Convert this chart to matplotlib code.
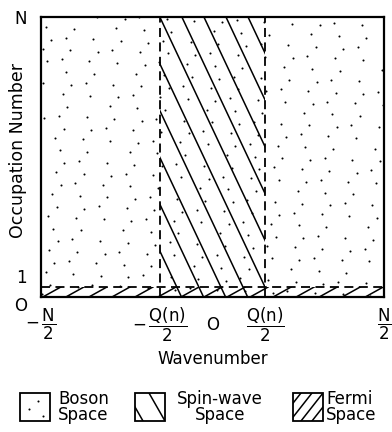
import numpy as np
import matplotlib
matplotlib.use('Agg')
import matplotlib.pyplot as plt
from matplotlib.patches import Rectangle

# ---- data (schematic units) ----
N_top = 28.0          # occupation number "N" (display height)
one_level = 1.0       # occupation number "1"
half_N = 14.0         # N/2 on wavenumber axis
half_Q = 4.3          # Q(n)/2 on wavenumber axis
x_ticks = [-half_N, -half_Q, 0.0, half_Q, half_N]
x_ticklabels = [r'$-\,\dfrac{\mathrm{N}}{2}$', r'$-\,\dfrac{\mathrm{Q(n)}}{2}$', 'O',
                r'$\dfrac{\mathrm{Q(n)}}{2}$', r'$\dfrac{\mathrm{N}}{2}$']
y_ticks = [0.0, one_level, N_top]
y_ticklabels = ['O', '1', 'N']
legend_labels = ['Boson\nSpace', 'Spin-wave\nSpace', 'Fermi\nSpace']

plt.rcParams['font.family'] = ['DejaVu Sans']
plt.rcParams['mathtext.fontset'] = 'dejavusans'

W, H = 392, 432
fig = plt.figure(figsize=(W / 100, H / 100), dpi=100)
ax = fig.add_axes([41 / W, 1 - 297 / H, 343 / W, 280 / H])
ax.set_xlim(-half_N, half_N)
ax.set_ylim(0, N_top)

# Boson-space stipple texture (deterministic low-discrepancy placement)
n_dots = 330
g = 1.32471795724
k = np.arange(1, n_dots + 1)
u = (0.5 + k / g) % 1.0
v = (0.5 + k / g ** 2) % 1.0
ax.scatter(-half_N + u * 2 * half_N, v * N_top, s=2.2, color='black', lw=0, zorder=2)

# Spin-wave space: steep "\" hatch between -Q/2 and Q/2
sw_rect = Rectangle((-half_Q, 0), 2 * half_Q, N_top, fill=False, linewidth=0)
ax.add_patch(sw_rect)
slope_sw = 2.6
spacing_sw = 1.8
for i in range(-7, 6):
    x0 = -half_Q + i * spacing_sw
    ln, = ax.plot([x0, x0 + N_top / slope_sw], [N_top, 0], color='black', lw=1.1)
    ln.set_clip_path(sw_rect)

# Fermi space: "/" hatch in bottom strip
fe_rect = Rectangle((-half_N, 0), 2 * half_N, one_level, fill=False, linewidth=0)
ax.add_patch(fe_rect)
spacing_fe = 1.88
dx_fe = 1.47
for i in range(-1, 17):
    xb = -half_N + 0.15 + i * spacing_fe
    ln, = ax.plot([xb, xb + dx_fe], [0, one_level], color='black', lw=1.1)
    ln.set_clip_path(fe_rect)

# dashed boundaries
for xq in (-half_Q, half_Q):
    ax.plot([xq, xq], [0, N_top], color='black', lw=1.3, dashes=(5, 3))
ax.plot([-half_N, half_N], [one_level, one_level], color='black', lw=1.3, dashes=(5, 3))

for s in ax.spines.values():
    s.set_linewidth(1.6)

ax.set_xticks(x_ticks)
ax.set_xticklabels(x_ticklabels, fontsize=12)
ax.tick_params(axis='x', length=0, pad=20)
for lab in ax.get_xticklabels():
    lab.set_verticalalignment('center')
ax.set_yticks(y_ticks)
ax.set_yticklabels(y_ticklabels, fontsize=12)
ax.tick_params(axis='y', length=0, pad=10)
ylabs = ax.get_yticklabels()
ylabs[0].set_verticalalignment('top')
ylabs[1].set_verticalalignment('bottom')

ax.set_xlabel('Wavenumber', fontsize=12)
ax.xaxis.set_label_coords(0.5, -(359 - 297) / 280)
ax.xaxis.label.set_verticalalignment('center')
ax.set_ylabel('Occupation Number', fontsize=12.5)
ax.yaxis.set_label_coords(-(41 - 18) / 343, (297 - 151) / 280)
ax.yaxis.label.set_verticalalignment('center')

# ---- legend drawn in its own axes (pixel coordinates) ----
lax = fig.add_axes([0, 0, 1, 1], zorder=-1)
lax.set_xlim(0, W)
lax.set_ylim(H, 0)
lax.axis('off')
box_x = [20, 135, 293]
box_w, box_top, box_h = 30, 393, 28
text_x = [58, 220, 326]
text_ha = ['left', 'center', 'left']
for i, (bx, tx, ha, lab) in enumerate(zip(box_x, text_x, text_ha, legend_labels)):
    rect = Rectangle((bx, box_top), box_w, box_h, fill=False, edgecolor='black', lw=1.3)
    lax.add_patch(rect)
    if i == 0:
        lax.scatter([bx + 18, bx + 9, bx + 23], [box_top + 8, box_top + 16, box_top + 23],
                    s=2.2, color='black', lw=0)
    elif i == 1:
        for off in (-8, 14):
            ln, = lax.plot([bx + off, bx + off + 16], [box_top, box_top + box_h],
                           color='black', lw=1.1)
            ln.set_clip_path(rect)
    else:
        for off in (-14, -3, 8, 19):
            ln, = lax.plot([bx + off, bx + off + 22], [box_top + box_h, box_top],
                           color='black', lw=1.1)
            ln.set_clip_path(rect)
    lax.text(tx, box_top + box_h / 2, lab, ha=ha, va='center', fontsize=12,
             linespacing=0.85, multialignment='center' if i == 1 else 'left')

fig.savefig('out.png', dpi=100)
